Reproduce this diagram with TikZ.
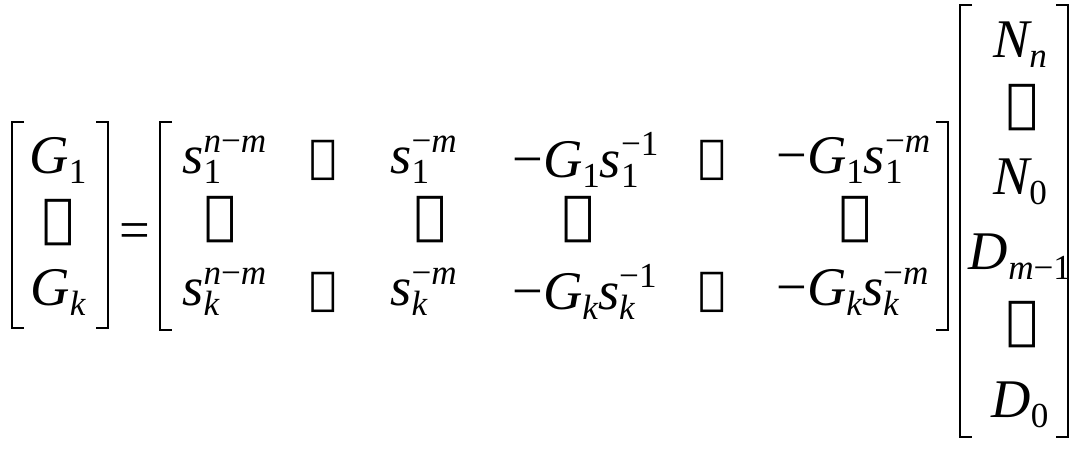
\documentclass[tikz,border=0pt]{standalone}
\usepackage{fontspec}
\setmainfont{Liberation Serif}
\newfontfamily\djf{DejaVu Serif}
\newcommand{\bigf}{\fontsize{31}{36}\selectfont}
\newcommand{\smf}{\fontsize{20}{22}\selectfont}
\newcommand{\SSx}[2]{\rlap{\raisebox{-0.4ex}{\smf #1}}\raisebox{0.85ex}{\smf #2}}
\newcommand{\SBx}[1]{\raisebox{-0.4ex}{\smf #1}}
\newcommand{\vd}{{\djf\fontsize{30}{30}\selectfont ⋮}}
\newcommand{\hd}{{\djf\fontsize{26}{26}\selectfont ⋯}}
\begin{document}
\begin{tikzpicture}[x=0.02cm,y=-0.02cm,
  t/.style={inner sep=0pt,font=\bigf},
  l/.style={inner sep=0pt,font=\bigf,anchor=west},
  br/.style={line width=1.4pt}]
\useasboundingbox (0,0) rectangle (1075,452);
% left vector
\draw[br] (24,122) -- (12,122) -- (12,328) -- (24,328);
\draw[br] (96,122) -- (108,122) -- (108,328) -- (96,328);
\node[t] (g1) at (58,160) {\itshape G\SBx{\upshape 1}};
\node[t] (v1) at (58,223) {\vd};
\node[t] (gk) at (58,292) {\itshape G\SBx{k}};
\node[t] (eq) at (135,236) {=};
% matrix
\draw[br] (172,122) -- (160,122) -- (160,330) -- (172,330);
\draw[br] (936,122) -- (948,122) -- (948,330) -- (936,330);
\node[l] (a11) at (182,160) {\itshape s\SSx{\upshape 1}{n\upshape −\itshape m}};
\node[t] (a12) at (323,160) {\hd};
\node[l] (a13) at (390,160) {\itshape s\SSx{\upshape 1}{\upshape −\itshape m}};
\node[l] (a14) at (512,160) {−\itshape G\SBx{\upshape 1}s\SSx{\upshape 1}{\upshape −1}};
\node[t] (a15) at (712,160) {\hd};
\node[l] (a16) at (776,160) {−\itshape G\SBx{\upshape 1}s\SSx{\upshape 1}{\upshape −\itshape m}};
\node[t] (b1) at (220,220) {\vd};
\node[t] (b3) at (430,220) {\vd};
\node[t] (b4) at (578,220) {\vd};
\node[t] (b6) at (855,220) {\vd};
\node[l] (c11) at (182,292) {\itshape s\SSx{k}{n\upshape −\itshape m}};
\node[t] (c12) at (323,292) {\hd};
\node[l] (c13) at (390,292) {\itshape s\SSx{k}{\upshape −\itshape m}};
\node[l] (c14) at (512,292) {−\itshape G\SBx{k}s\SSx{k}{\upshape −1}};
\node[t] (c15) at (712,292) {\hd};
\node[l] (c16) at (776,292) {−\itshape G\SBx{k}s\SSx{k}{\upshape −\itshape m}};
% right vector
\draw[br] (972,5) -- (960,5) -- (960,437) -- (972,437);
\draw[br] (1056,5) -- (1068,5) -- (1068,437) -- (1056,437);
\node[t] (nn) at (1020,45) {\itshape N\SBx{n}};
\node[t] (v2) at (1022,108) {\vd};
\node[t] (n0) at (1020,182) {\itshape N\SBx{\upshape 0}};
\node[t] (dm) at (1020,257) {\itshape D\SBx{m\upshape −1}};
\node[t] (v3) at (1022,325) {\vd};
\node[t] (d0) at (1020,405) {\itshape D\SBx{\upshape 0}};
\end{tikzpicture}
\end{document}
